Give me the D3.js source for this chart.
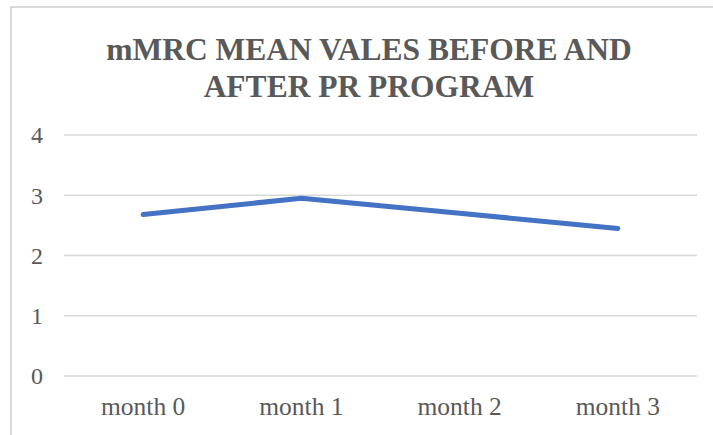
<!DOCTYPE html>
<html>
<head>
<meta charset="UTF-8">
<script src="https://cdn.jsdelivr.net/npm/d3@7"></script>
<style>
    body { margin: 0; background: #fff; }
    text { font-family: "Liberation Serif", "Times New Roman", serif; fill: #595959; }
</style>
</head>
<body>
<svg width="713" height="435"></svg>
<script>
    var categories = ["month 0", "month 1", "month 2", "month 3"];
    var values = [2.68, 2.95, 2.70, 2.45];
    var yTicks = [0, 1, 2, 3, 4];
    var titleLines = ["mMRC MEAN VALES BEFORE AND", "AFTER PR PROGRAM"];

    var svg = d3.select("svg");

    // chart border (only left and top show in the crop)
    svg.append("path")
        .attr("d", "M11,435 L11,7 L713,7")
        .attr("fill", "none")
        .attr("stroke", "#d9d9d9")
        .attr("stroke-width", 2);

    svg.append("g").selectAll("text")
        .data(titleLines)
        .enter().append("text")
        .attr("x", 369)
        .attr("y", function(d, i) { return 60 + i * 37; })
        .attr("text-anchor", "middle")
        .style("font-size", "31.5px")
        .style("font-weight", "bold")
        .text(function(d) { return d; });

    var left = 64, right = 697;
    var x = d3.scaleBand().domain(categories).range([left, right]);
    var y = d3.scaleLinear().domain([0, 4]).range([376, 135]);

    svg.append("g")
        .selectAll("line")
        .data(yTicks)
        .enter().append("line")
        .attr("x1", left).attr("x2", right)
        .attr("y1", function(d) { return y(d); })
        .attr("y2", function(d) { return y(d); })
        .attr("stroke", "#d9d9d9")
        .attr("stroke-width", 1.5);

    svg.append("g")
        .selectAll("text")
        .data(yTicks)
        .enter().append("text")
        .attr("x", 43)
        .attr("y", function(d) { return y(d); })
        .attr("dy", "0.35em")
        .attr("text-anchor", "end")
        .style("font-size", "24px")
        .text(function(d) { return d; });

    svg.append("g")
        .selectAll("text")
        .data(categories)
        .enter().append("text")
        .attr("x", function(d) { return x(d) + x.bandwidth() / 2; })
        .attr("y", 415)
        .attr("text-anchor", "middle")
        .style("font-size", "25.5px")
        .text(function(d) { return d; });

    var line = d3.line()
        .x(function(d, i) { return x(categories[i]) + x.bandwidth() / 2; })
        .y(function(d) { return y(d); });

    svg.append("path")
        .datum(values)
        .attr("d", line)
        .attr("fill", "none")
        .attr("stroke", "#4472c4")
        .attr("stroke-width", 5)
        .attr("stroke-linecap", "round")
        .attr("stroke-linejoin", "round");
</script>
</body>
</html>
